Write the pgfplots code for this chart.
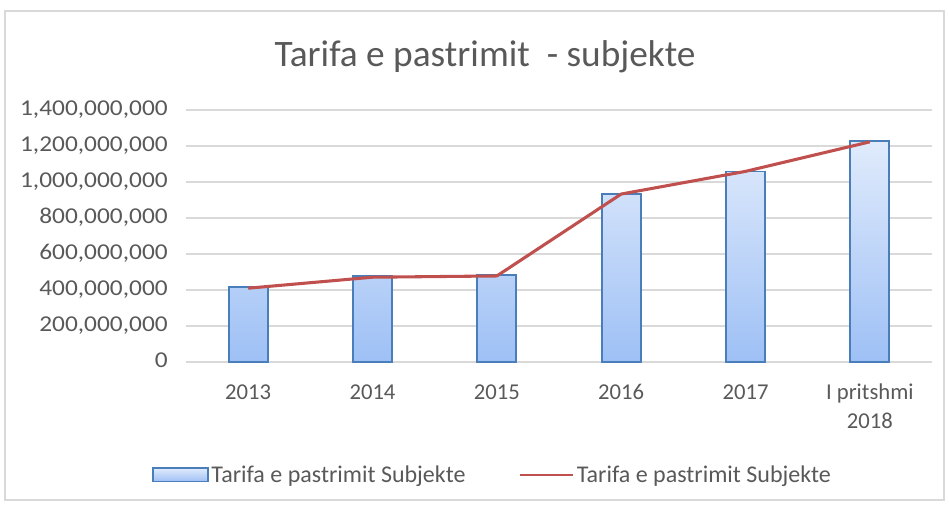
\documentclass[border=0pt]{standalone}
\usepackage{pgfplots}
\pgfplotsset{compat=1.18}
\usepackage{fontspec}
\setmainfont{Carlito}
\newfontfamily\ylabfont[FakeStretch=1.12]{Carlito}
\definecolor{txt}{RGB}{89,89,89}
\definecolor{gridc}{RGB}{217,217,217}
\definecolor{barb}{RGB}{74,126,187}
\definecolor{bartop}{RGB}{224,235,252}
\definecolor{barbot}{RGB}{158,192,245}
\definecolor{linered}{RGB}{192,80,77}
\begin{document}
\begin{tikzpicture}[x=1pt,y=1pt]
\useasboundingbox (-139.5,-107.25) rectangle (572.25,271.5);
\draw[gridc, line width=0.8pt] (-135.75,-103.5) rectangle (568.5,263.25);
\begin{axis}[
  at={(0,0)}, anchor=south west,
  scale only axis, width=559.5pt, height=189pt,
  xmin=-0.5, xmax=5.5, ymin=0, ymax=1400000000,
  xtick={0,1,2,3,4,5},
  xticklabels={2013,2014,2015,2016,2017,{I pritshmi\\2018}},
  ytick={0,200000000,400000000,600000000,800000000,1000000000,1200000000,1400000000},
  scaled y ticks=false,
  yticklabel style={/pgf/number format/fixed, /pgf/number format/1000 sep={,}, /pgf/number format/assume math mode=true,
    font=\ylabfont\fontsize{17}{20}\selectfont, text=txt, inner xsep=0pt, xshift=-13.5pt},
  xticklabel style={font=\fontsize{17}{22}\selectfont, text=txt, align=center, anchor=north, inner sep=0pt, yshift=-12.5pt},
  typeset ticklabels with strut,
  ymajorgrids, grid style={gridc, line width=0.8pt},
  axis x line*=bottom, axis y line*=left,
  x axis line style={gridc, line width=0.8pt, -},
  y axis line style={draw=none},
  major tick length=0pt,
  ybar, bar width=29.25pt,
  legend columns=2,
  legend style={draw=none, fill=none, at={(axis description cs:0.4115,-0.448)}, anchor=center,
    font=\fontsize{18}{21}\selectfont, text=txt,
    /tikz/every even column/.append style={column sep=38pt}},
  clip=false,
]
\addplot[draw=barb, line width=1.3pt, top color=bartop, bottom color=barbot,
  legend image code/.code={\draw[draw=barb, line width=1.3pt, top color=bartop, bottom color=barbot] (0pt,-5pt) rectangle (41pt,5pt);}]
  coordinates {(0,418000000) (1,478000000) (2,482000000) (3,933000000) (4,1059000000) (5,1229000000)};
\addlegendentry{Tarifa e pastrimit Subjekte}
\addplot[sharp plot, draw=linered, line width=2.3pt, mark=none,
  legend image code/.code={\draw[draw=linered, line width=1.5pt] (0pt,0pt) -- (40pt,0pt);}]
  coordinates {(0,410000000) (1,471000000) (2,478000000) (3,933000000) (4,1059000000) (5,1223000000)};
\addlegendentry{Tarifa e pastrimit Subjekte}
\end{axis}
\node[text=txt, font=\fontsize{28}{30}\selectfont] at (224.25,228.75) {Tarifa e pastrimit\ \ - subjekte};
\end{tikzpicture}
\end{document}
